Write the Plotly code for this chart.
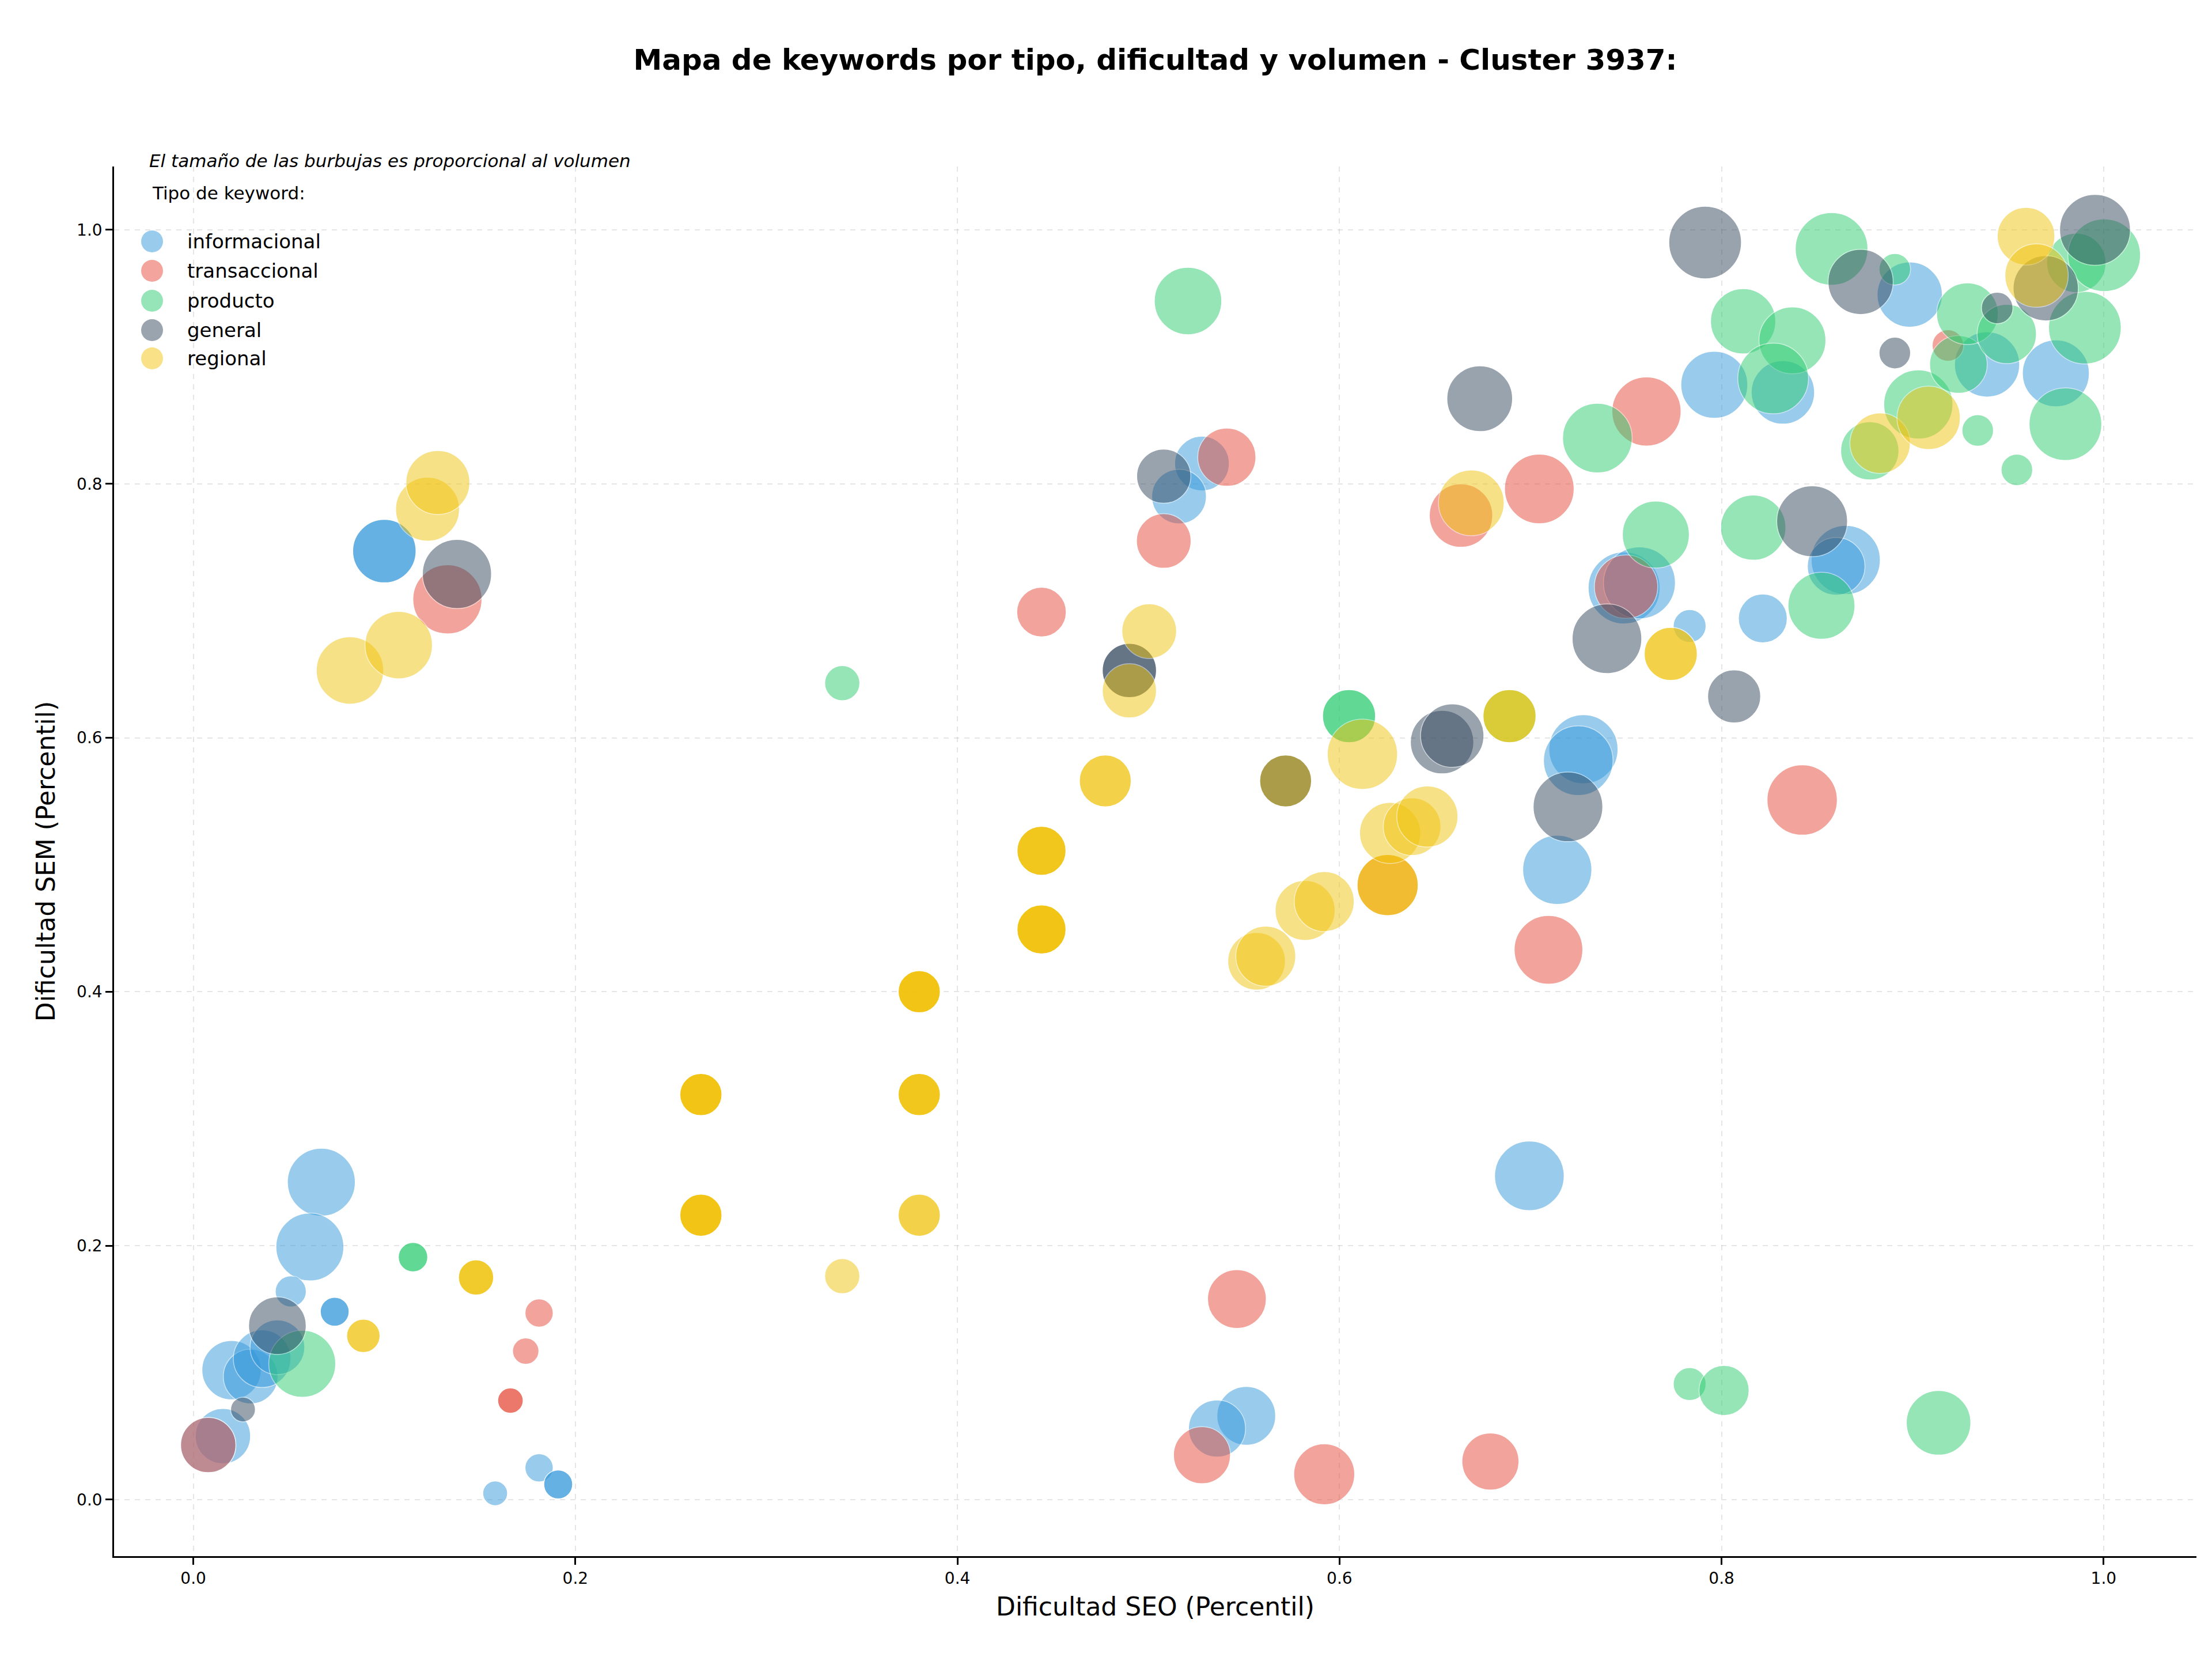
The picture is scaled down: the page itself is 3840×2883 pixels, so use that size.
import plotly.graph_objects as go

# ---------------- data ----------------
categories = ["informacional", "transaccional", "producto", "general", "regional"]
colors = ["#3498DB", "#E74C3C", "#2ECC71", "#34495E", "#F1C40F"]

info_x = [0.067, 0.061, 0.051, 0.074, 0.074, 0.020, 0.030, 0.036, 0.044, 0.0155, 0.0078,
          0.158, 0.181, 0.191, 0.191, 0.100, 0.100, 0.528, 0.516, 0.7277, 0.725, 0.714,
          0.6994, 0.5512, 0.5359, 0.7833, 0.8216, 0.749, 0.757, 0.865, 0.860, 0.8321,
          0.7962, 0.8985, 0.939, 0.975]
info_y = [0.250, 0.199, 0.164, 0.148, 0.148, 0.102, 0.097, 0.111, 0.120, 0.050, 0.043,
          0.005, 0.025, 0.012, 0.012, 0.747, 0.747, 0.816, 0.790, 0.591, 0.582, 0.496,
          0.255, 0.066, 0.056, 0.688, 0.694, 0.718, 0.722, 0.740, 0.735, 0.872,
          0.878, 0.949, 0.894, 0.887]
info_vol = [1390, 1390, 290, 250, 250, 1060, 900, 1000, 900, 920, 920,
            185, 240, 250, 250, 1210, 1210, 900, 900, 1440, 1460, 1440,
            1460, 1040, 980, 325, 720, 1560, 1560, 1440, 1000, 1210,
            1350, 1280, 1280, 1350]

trans_x = [0.0078, 0.181, 0.174, 0.166, 0.166, 0.133, 0.541, 0.508, 0.444, 0.6636,
           0.7046, 0.7607, 0.750, 0.9185, 0.8422, 0.7094, 0.5463, 0.528, 0.592, 0.679,
           0.6252]
trans_y = [0.043, 0.147, 0.117, 0.078, 0.078, 0.709, 0.821, 0.755, 0.699, 0.775,
           0.796, 0.857, 0.719, 0.909, 0.551, 0.433, 0.158, 0.035, 0.020, 0.030,
           0.484]
trans_vol = [920, 240, 210, 195, 195, 1440, 1020, 900, 740, 1210,
             1460, 1440, 1210, 300, 1490, 1420, 1040, 980, 1120, 980,
             1120]

prod_x = [0.057, 0.115, 0.115, 0.3397, 0.5207, 0.605, 0.605, 0.689, 0.735, 0.7656,
          0.8166, 0.8113, 0.8371, 0.827, 0.8576, 0.8907, 0.8523, 0.903, 0.8776, 0.924,
          0.9287, 0.9493, 0.9341, 0.9546, 0.980, 0.9902, 0.9857, 1.0003, 0.7833, 0.8013,
          0.9136]
prod_y = [0.107, 0.191, 0.191, 0.643, 0.944, 0.617, 0.617, 0.617, 0.836, 0.760,
          0.7655, 0.928, 0.913, 0.883, 0.985, 0.969, 0.704, 0.8625, 0.826, 0.894,
          0.934, 0.918, 0.842, 0.811, 0.847, 0.923, 0.974, 0.980, 0.091, 0.086,
          0.0605]
prod_vol = [1350, 260, 260, 372, 1370, 846, 846, 846, 1460, 1350,
            1280, 1280, 1350, 1510, 1590, 300, 1350, 1440, 1020, 1000,
            1145, 1060, 300, 300, 1590, 1590, 1060, 1590, 325, 757,
            1254]

gen_x = [0.044, 0.026, 0.138, 0.508, 0.490, 0.490, 0.5718, 0.5718, 0.6537, 0.659,
         0.6734, 0.740, 0.7196, 0.8066, 0.7914, 0.8728, 0.8474, 0.8907, 0.9443, 0.9697,
         0.9955]
gen_y = [0.137, 0.071, 0.729, 0.806, 0.653, 0.653, 0.566, 0.566, 0.5966, 0.6017,
         0.867, 0.678, 0.5456, 0.6326, 0.990, 0.959, 0.7705, 0.903, 0.9385, 0.954,
         1.000]
gen_vol = [1000, 185, 1440, 884, 884, 884, 810, 810, 1210, 1210,
           1300, 1460, 1460, 846, 1590, 1280, 1510, 300, 300, 1280,
           1510]

reg_x = [0.082, 0.1075, 0.1226, 0.128, 0.089, 0.089, 0.148, 0.148, 0.148,
         0.2657, 0.2657, 0.2657, 0.2657, 0.2657, 0.2657, 0.2657, 0.2657, 0.2657, 0.2657,
         0.3397, 0.380, 0.380, 0.380, 0.380, 0.380, 0.380, 0.380, 0.380, 0.380, 0.380, 0.380,
         0.444, 0.444, 0.444, 0.444, 0.444, 0.444, 0.444, 0.444, 0.444,
         0.4774, 0.4774, 0.490, 0.5004, 0.5718, 0.5566, 0.5614, 0.582, 0.592, 0.612,
         0.6252, 0.6252, 0.6265, 0.638, 0.646, 0.669, 0.689, 0.689, 0.7734, 0.7734,
         0.883, 0.9084, 0.9594, 0.9649]
reg_y = [0.653, 0.673, 0.780, 0.801, 0.129, 0.129, 0.175, 0.175, 0.175,
         0.319, 0.319, 0.319, 0.319, 0.319, 0.224, 0.224, 0.224, 0.224, 0.224,
         0.176, 0.400, 0.400, 0.400, 0.400, 0.400, 0.319, 0.319, 0.319, 0.319, 0.224, 0.224,
         0.511, 0.511, 0.511, 0.511, 0.449, 0.449, 0.449, 0.449, 0.449,
         0.566, 0.566, 0.637, 0.684, 0.566, 0.424, 0.428, 0.464, 0.471, 0.587,
         0.484, 0.484, 0.525, 0.530, 0.538, 0.785, 0.617, 0.617, 0.666, 0.666,
         0.832, 0.852, 0.995, 0.964]
reg_vol = [1370, 1370, 1232, 1232, 336, 336, 372, 372, 372,
           533, 533, 533, 533, 533, 533, 533, 533, 533, 533,
           372, 533, 533, 533, 533, 533, 533, 533, 533, 533, 533, 533,
           722, 722, 722, 722, 722, 722, 722, 722, 722,
           810, 810, 884, 902, 810, 1000, 1082, 1082, 1082, 1488,
           1124, 1124, 1124, 1000, 1124, 1300, 846, 846, 846, 846,
           1102, 1210, 1000, 1210]

series_x = [info_x, trans_x, prod_x, gen_x, reg_x]
series_y = [info_y, trans_y, prod_y, gen_y, reg_y]
series_vol = [info_vol, trans_vol, prod_vol, gen_vol, reg_vol]

x_ticks = [0.0, 0.2, 0.4, 0.6, 0.8, 1.0]
y_ticks = [0.0, 0.2, 0.4, 0.6, 0.8, 1.0]

title_text = "Mapa de keywords por tipo, dificultad y volumen - Cluster 3937:"
subtitle_text = "El tamaño de las burbujas es proporcional al volumen"
legend_title = "Tipo de keyword:"
x_label = "Dificultad SEO (Percentil)"
y_label = "Dificultad SEM (Percentil)"

# ---------------- figure ----------------
W, H = 3840, 2883
L, R, T, B = 198, 3813, 289, 2701
FONT = "DejaVu Sans"

fig = go.Figure()
for name, col, xs, ys, vs in zip(categories, colors, series_x, series_y, series_vol):
    fig.add_trace(go.Scatter(
        x=xs, y=ys, mode="markers", name=name, showlegend=False,
        marker=dict(size=vs, sizemode="area", sizeref=0.2, color=col, opacity=0.5,
                    line=dict(color="white", width=1.5)),
    ))


def px_to_paper(px, py):
    return (px - L) / (R - L), (B - py) / (B - T)


annotations = []
shapes = []

# subtitle
sx, sy = px_to_paper(257, 279)
annotations.append(dict(text="<i>" + subtitle_text + "</i>", x=sx, y=sy, xref="paper", yref="paper",
                        xanchor="left", yanchor="middle", showarrow=False,
                        font=dict(family=FONT, size=31, color="black")))
# legend title
lx, ly = px_to_paper(262, 335)
annotations.append(dict(text=legend_title, x=lx, y=ly, xref="paper", yref="paper",
                        xanchor="left", yanchor="middle", showarrow=False,
                        font=dict(family=FONT, size=31, color="black")))
# legend entries
leg_y = [419, 470, 522, 573, 622]
for name, col, py in zip(categories, colors, leg_y):
    cx, cy = px_to_paper(264, py)
    shapes.append(dict(type="circle", xref="paper", yref="paper", xsizemode="pixel", ysizemode="pixel",
                       xanchor=cx, yanchor=cy, x0=-19, x1=19, y0=-19, y1=19,
                       fillcolor=col, opacity=0.5, line=dict(width=0), layer="above"))
    tx, ty = px_to_paper(323, py)
    annotations.append(dict(text=name, x=tx, y=ty, xref="paper", yref="paper",
                            xanchor="left", yanchor="middle", showarrow=False,
                            font=dict(family=FONT, size=34, color="black")))

axis_common = dict(
    showline=True, linecolor="black", linewidth=2.5, mirror=False,
    ticks="outside", ticklen=12, tickwidth=2.5, tickcolor="black",
    showgrid=True, gridcolor="rgba(180,180,180,0.35)", gridwidth=2, griddash="dash",
    zeroline=False, tickformat=".1f",
    tickfont=dict(family=FONT, size=28, color="black"),
)

fig.update_layout(
    width=W, height=H,
    margin=dict(l=L, r=W - R, t=T, b=H - B, autoexpand=False),
    paper_bgcolor="white", plot_bgcolor="white",
    title=dict(text="<b>" + title_text + "</b>", x=(L + R) / 2 / W, y=1 - 103 / H,
               xanchor="center", yanchor="middle",
               font=dict(family=FONT, size=50, color="black")),
    xaxis=dict(range=[-0.0415, 1.0486], tickvals=x_ticks,
               title=dict(text=x_label, standoff=18, font=dict(family=FONT, size=44, color="black")),
               **axis_common),
    yaxis=dict(range=[-0.0445, 1.0499], tickvals=y_ticks,
               title=dict(text=y_label, standoff=24, font=dict(family=FONT, size=44, color="black")),
               **axis_common),
    annotations=annotations,
    shapes=shapes,
    showlegend=False,
)

fig.write_html("out.html")
